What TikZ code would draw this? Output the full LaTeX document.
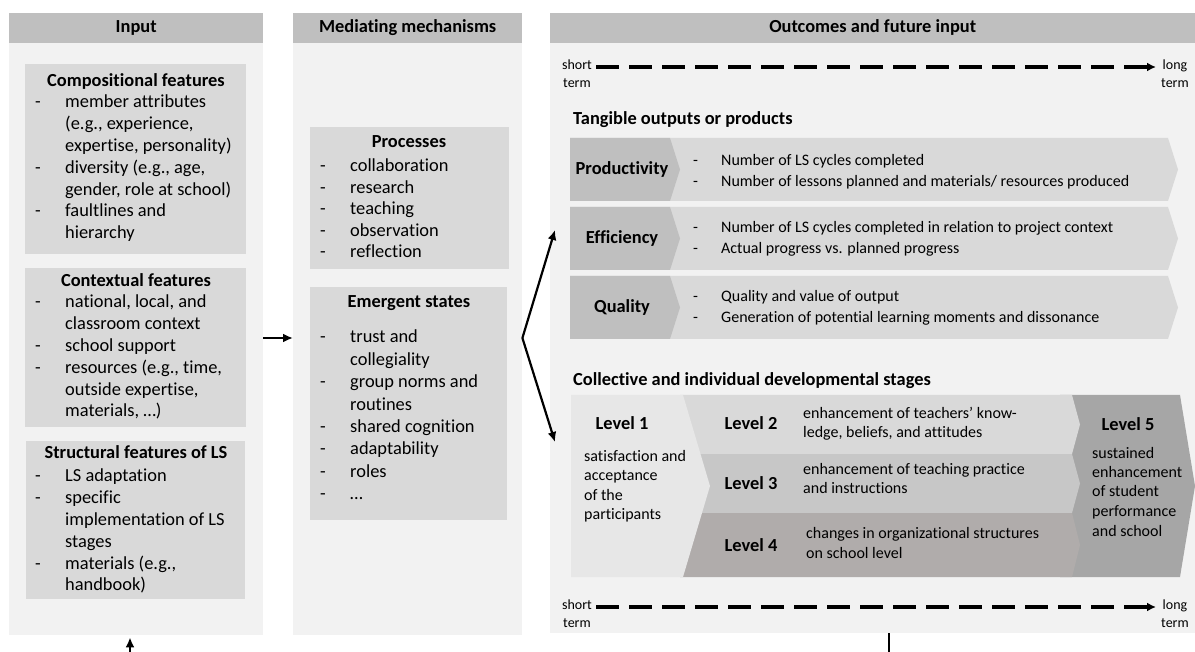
\documentclass[tikz,border=0pt]{standalone}
\usepackage{fontspec}
\setmainfont{Carlito}[Ligatures={TeX,NoCommon}]
\usetikzlibrary{arrows.meta,positioning}

\definecolor{hdrgray}{HTML}{BFBFBF}
\definecolor{panelgray}{HTML}{F2F2F2}
\definecolor{boxgray}{HTML}{D9D9D9}
\definecolor{rowdark}{HTML}{BFBFBF}
\definecolor{rowlight}{HTML}{D9D9D9}
\definecolor{lvlone}{HTML}{E7E7E7}
\definecolor{lvltwo}{HTML}{D9D9D9}
\definecolor{lvlthree}{HTML}{C7C7C7}
\definecolor{lvlfour}{HTML}{B0ACAB}
\definecolor{lvlfive}{HTML}{A6A6A6}

\tikzset{
  panelhead/.style={fill=hdrgray, minimum height=30pt, inner sep=0pt, anchor=north west,
    font=\fontsize{18.4}{22}\selectfont\bfseries, text height=12.5pt, text depth=3.5pt},
  panelbody/.style={fill=panelgray, inner sep=0pt, anchor=north west},
  fbox/.style={fill=boxgray, inner sep=0pt, anchor=north west},
  ftitle/.style={anchor=base, inner sep=0pt, font=\fontsize{18.4}{22}\selectfont\bfseries},
  flist/.style={anchor=base west, inner sep=0pt, font=\fontsize{18.4}{21.8}\selectfont},
  rowlab/.style={inner sep=0pt, font=\fontsize{18.4}{22}\selectfont\bfseries},
  rowtext/.style={anchor=base west, inner sep=0pt, font=\fontsize{16}{20.5}\selectfont},
  lvlhead/.style={anchor=base, inner sep=0pt, font=\fontsize{18.4}{22}\selectfont\bfseries},
  lvltext/.style={anchor=base west, inner sep=0pt, font=\fontsize{16}{19.5}\selectfont},
  termlab/.style={align=center, inner sep=0pt, font=\fontsize{14}{18}\selectfont},
  flow/.style={-{Latex[length=10pt,width=9pt]}, line width=2.2pt},
  dasharr/.style={-{Latex[length=9pt,width=9pt]}, line width=3.2pt, dash pattern=on 23pt off 10pt},
}

\begin{document}
\begin{tikzpicture}[x=1pt, y=-1pt]
  \useasboundingbox (0,0) rectangle (1195,652);

  % three columns
  \node[panelbody, minimum width=254pt, minimum height=592pt] (inbody) at (9,43) {};
  \node[panelhead, minimum width=254pt] (inhead) at (9,13) {Input};
  \node[panelbody, minimum width=229pt, minimum height=592pt] (medbody) at (293,43) {};
  \node[panelhead, minimum width=229pt] (medhead) at (293,13) {Mediating mechanisms};
  \node[panelbody, minimum width=645pt, minimum height=590pt] (outbody) at (550,43) {};
  \node[panelhead, minimum width=645pt] (outhead) at (550,13) {Outcomes and future input};

  % input features
  \node[fbox, minimum width=221pt, minimum height=190pt] (comp) at (25,64) {};
  \node[ftitle] (comptitle) at (136,87) {Compositional features};
  \node[flist] (complist) at (35,108) {\begin{tabular}[t]{@{}p{30pt}@{}l@{}}
    - & member attributes\\ & (e.g., experience,\\ & expertise, personality)\\
    - & diversity (e.g., age,\\ & gender, role at school)\\
    - & faultlines and\\ & hierarchy\end{tabular}};

  \node[fbox, minimum width=221pt, minimum height=159pt] (ctx) at (25,268) {};
  \node[ftitle] (ctxtitle) at (136,287) {Contextual features};
  \node[flist] (ctxlist) at (35,308) {\begin{tabular}[t]{@{}p{30pt}@{}l@{}}
    - & national, local, and\\ & classroom context\\
    - & school support\\
    - & resources (e.g., time,\\ & outside expertise,\\ & materials, …)\end{tabular}};

  \node[fbox, minimum width=219pt, minimum height=158pt] (struct) at (26,441) {};
  \node[ftitle] (structtitle) at (136,458) {Structural features of LS};
  \node[flist] (structlist) at (35,482) {\begin{tabular}[t]{@{}p{30pt}@{}l@{}}
    - & LS adaptation\\
    - & specific\\ & implementation of LS\\ & stages\\
    - & materials (e.g.,\\ & handbook)\end{tabular}};

  % mediating mechanisms
  \node[fbox, minimum width=199pt, minimum height=142pt] (proc) at (310,127) {};
  \node[ftitle] (proctitle) at (409,148) {Processes};
  \node[flist, font=\fontsize{18.4}{21.5}\selectfont] (proclist) at (320,172) {\begin{tabular}[t]{@{}p{30pt}@{}l@{}}
    - & collaboration\\ - & research\\ - & teaching\\ - & observation\\ - & reflection\end{tabular}};

  \node[fbox, minimum width=197pt, minimum height=233pt] (emer) at (310,287) {};
  \node[ftitle] (emertitle) at (409,308) {Emergent states};
  \node[flist, font=\fontsize{18.4}{22.4}\selectfont] (emerlist) at (320,343) {\begin{tabular}[t]{@{}p{30pt}@{}l@{}}
    - & trust and\\ & collegiality\\
    - & group norms and\\ & routines\\
    - & shared cognition\\ - & adaptability\\ - & roles\\ - & …\end{tabular}};

  % time scale, top
  \node[termlab] (tshort) at (577,74) {short\\term};
  \node[termlab] (tlong) at (1175,74) {long\\term};
  \draw[dasharr, shorten <=4pt, shorten >=5pt] (tshort.east |- 0,67) -- (tlong.west |- 0,67);

  % tangible outputs
  \node[anchor=base west, inner sep=0pt, font=\fontsize{18.4}{22}\selectfont\bfseries] (tangible) at (573,125) {Tangible outputs or products};
  \foreach \ya/\lab/\nm in {138/Productivity/prod, 207/Efficiency/eff, 276/Quality/qual} {
    \fill[rowlight] (570,\ya) -- (1168,\ya) -- (1178,{\ya+31.5}) -- (1168,{\ya+63}) -- (570,{\ya+63}) -- cycle;
    \fill[rowdark] (570,\ya) -- (670,\ya) -- (680,{\ya+31.5}) -- (670,{\ya+63}) -- (570,{\ya+63}) -- cycle;
    \node[rowlab] (\nm) at (622,{\ya+31.5}) {\lab};
  }
  \node[rowtext] (prodtext) at (693,166) {\begin{tabular}[t]{@{}p{28pt}@{}l@{}}
    - & Number of LS cycles completed\\ - & Number of lessons planned and materials/ resources produced\end{tabular}};
  \node[rowtext] (efftext) at (693,233) {\begin{tabular}[t]{@{}p{28pt}@{}l@{}}
    - & Number of LS cycles completed in relation to project context\\ - & Actual progress vs. planned progress\end{tabular}};
  \node[rowtext] (qualtext) at (693,302) {\begin{tabular}[t]{@{}p{28pt}@{}l@{}}
    - & Quality and value of output\\ - & Generation of potential learning moments and dissonance\end{tabular}};

  % developmental stages
  \node[anchor=base west, inner sep=0pt, font=\fontsize{18.4}{22}\selectfont\bfseries] (stages) at (573,386) {Collective and individual developmental stages};
  \fill[lvlfive] (1060,395) -- (1180,395) -- (1195,486) -- (1180,577) -- (1060,577) -- cycle;
  \foreach \ya/\yb/\col in {395/454/lvltwo, 454/513/lvlthree, 513/577/lvlfour}
    \fill[\col] (680,\ya) -- (1072,\ya) -- (1080,{(\ya+\yb)/2}) -- (1072,\yb) -- (680,\yb) -- cycle;
  \fill[lvlone] (571,395) -- (683,395) -- (710,486) -- (683,577) -- (571,577) -- cycle;

  \node[lvlhead] (lone) at (622,429) {Level 1};
  \node[lvltext] (lonetext) at (584,461) {\begin{tabular}[t]{@{}l@{}}satisfaction and\\acceptance\\of the\\participants\end{tabular}};
  \node[lvlhead] (ltwo) at (751,429) {Level 2};
  \node[lvltext, font=\fontsize{16}{20}\selectfont] (ltwotext) at (803,418) {\begin{tabular}[t]{@{}l@{}}enhancement of teachers’ know-\\ledge, beliefs, and attitudes\end{tabular}};
  \node[lvlhead] (lthree) at (751,489) {Level 3};
  \node[lvltext, font=\fontsize{16}{20}\selectfont] (lthreetext) at (803,474) {\begin{tabular}[t]{@{}l@{}}enhancement of teaching practice\\and instructions\end{tabular}};
  \node[lvlhead] (lfour) at (751,551) {Level 4};
  \node[lvltext, font=\fontsize{16}{20}\selectfont] (lfourtext) at (806,538) {\begin{tabular}[t]{@{}l@{}}changes in organizational structures\\on school level\end{tabular}};
  \node[lvlhead] (lfive) at (1128,431) {Level 5};
  \node[lvltext] (lfivetext) at (1092,458) {\begin{tabular}[t]{@{}l@{}}sustained\\enhancement\\of student\\performance\\and school\end{tabular}};

  % time scale, bottom
  \node[termlab] (bshort) at (577,614) {short\\term};
  \node[termlab] (blong) at (1175,614) {long\\term};
  \draw[dasharr, shorten <=4pt, shorten >=5pt] (bshort.east |- 0,607) -- (blong.west |- 0,607);

  % arrows between the columns
  \draw[flow] (inbody.east |- 0,338) -- (medbody.west |- 0,338);
  \coordinate (fork) at (medbody.east |- 0,338);
  \coordinate (uptip) at (555,230);
  \coordinate (downtip) at (555,442);
  \draw[flow] (fork) -- (uptip);
  \draw[flow] (fork) -- (downtip);

  % feedback loop ends
  \coordinate (loopin) at (130,652);
  \coordinate (loopout) at (889,652);
  \draw[flow] (loopin) -- ([yshift=-2pt]inbody.south -| loopin);
  \draw[line width=2.2pt] (outbody.south -| loopout) -- (loopout);
\end{tikzpicture}
\end{document}
